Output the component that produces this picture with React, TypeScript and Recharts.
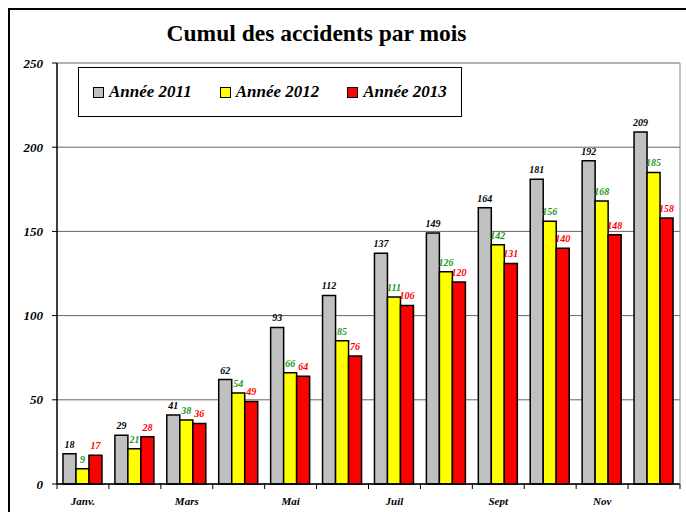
import { BarChart, Bar, XAxis, YAxis, CartesianGrid, LabelList } from 'recharts';

const months = ['Janv.', 'Févr.', 'Mars', 'Avr.', 'Mai', 'Juin', 'Juil', 'Août', 'Sept', 'Oct', 'Nov', 'Déc.'];
const y2011 = [18, 29, 41, 62, 93, 112, 137, 149, 164, 181, 192, 209];
const y2012 = [9, 21, 38, 54, 66, 85, 111, 126, 142, 156, 168, 185];
const y2013 = [17, 28, 36, 49, 64, 76, 106, 120, 131, 140, 148, 158];
const yTicks = [0, 50, 100, 150, 200, 250];

const series = [
  { key: 'a2011', name: 'Année 2011', fill: '#C0C0C0', labelColor: '#000000' },
  { key: 'a2012', name: 'Année 2012', fill: '#FFFF00', labelColor: '#229922' },
  { key: 'a2013', name: 'Année 2013', fill: '#FF0000', labelColor: '#FF0000' },
];

const data = months.map((month, i) => ({
  month,
  a2011: y2011[i],
  a2012: y2012[i],
  a2013: y2013[i],
}));

const FONT = "'Liberation Serif', 'Times New Roman', serif";
const W = 686;
const H = 512;
const margin = { top: 63, right: 5, left: 10, bottom: 4 };
const yAxisW = 47;
const plotW = W - margin.left - margin.right - yAxisW - 1;
const halfBand = plotW / months.length / 2;

const italicBold = { fontFamily: FONT, fontWeight: 'bold' as const, fontStyle: 'italic' as const };

function MonthTick(props: any) {
  const { x, y, index, payload } = props;
  const last = index === months.length - 1;
  return (
    <g>
      <line x1={x - halfBand} x2={x - halfBand} y1={y} y2={y + 5} stroke="#000" />
      {last && <line x1={x + halfBand} x2={x + halfBand} y1={y} y2={y + 5} stroke="#000" />}
      {index % 2 === 0 && (
        <text x={x} y={y + 21} textAnchor="middle" fontSize={11} fill="#000" style={italicBold}>
          {payload.value}
        </text>
      )}
    </g>
  );
}

export default function App() {
  return (
    <div
      style={{
        position: 'relative',
        width: W,
        height: H,
        overflow: 'hidden',
        background: '#fff',
        fontFamily: FONT,
      }}
    >
      <style>{'body{margin:0;overflow:hidden}'}</style>
      {/* outer frame, cut off at right and bottom */}
      <div
        style={{
          position: 'absolute',
          left: 8,
          top: 8,
          width: 720,
          height: 540,
          border: '2px solid #000',
        }}
      />
      <div
        style={{
          position: 'absolute',
          left: 0,
          width: 633,
          top: 20,
          textAlign: 'center',
          fontWeight: 'bold',
          fontSize: 23.5,
          color: '#000',
          whiteSpace: 'nowrap',
        }}
      >
        Cumul des accidents par mois
      </div>
      <div style={{ position: 'absolute', left: 0, top: 0 }}>
        <BarChart
          width={W}
          height={H}
          data={data}
          margin={margin}
          barCategoryGap="11.5%"
          barGap={0}
          style={{ fontFamily: FONT }}
        >
          <CartesianGrid vertical={false} stroke="#666" strokeWidth={1} />
          <XAxis
            dataKey="month"
            height={24}
            interval={0}
            tickSize={0}
            tickMargin={0}
            tickLine={false}
            axisLine={{ stroke: '#000', strokeWidth: 1.5 }}
            tick={<MonthTick />}
          />
          <YAxis
            width={yAxisW}
            domain={[0, 250]}
            ticks={yTicks}
            interval={0}
            tickSize={5}
            tickMargin={9}
            axisLine={{ stroke: '#000', strokeWidth: 1.5 }}
            tickLine={{ stroke: '#000' }}
            tick={{ fontSize: 13, fill: '#000', style: italicBold }}
          />
          <YAxis
            yAxisId="right"
            orientation="right"
            width={1}
            domain={[0, 250]}
            tick={false}
            tickLine={false}
            axisLine={{ stroke: '#888' }}
          />
          {series.map((s) => (
            <Bar
              key={s.key}
              dataKey={s.key}
              name={s.name}
              fill={s.fill}
              stroke="#000"
              strokeWidth={1.5}
              isAnimationActive={false}
            >
              <LabelList
                dataKey={s.key}
                position="top"
                offset={6}
                fill={s.labelColor}
                fontSize={10}
                style={italicBold}
              />
            </Bar>
          ))}
        </BarChart>
      </div>
      {/* legend box */}
      <div
        style={{
          position: 'absolute',
          left: 78,
          top: 67,
          width: 368,
          height: 48,
          border: '1px solid #000',
          background: '#fff',
          display: 'flex',
          alignItems: 'center',
          paddingLeft: 14,
          boxSizing: 'content-box',
          fontWeight: 'bold',
          fontStyle: 'italic',
          fontSize: 17,
          whiteSpace: 'nowrap',
        }}
      >
        {series.map((s) => (
          <div key={s.key} style={{ display: 'flex', alignItems: 'center', marginRight: 28 }}>
            <span
              style={{
                display: 'inline-block',
                width: 9,
                height: 9,
                background: s.fill,
                border: '1px solid #000',
                marginRight: 5,
              }}
            />
            <span>{s.name}</span>
          </div>
        ))}
      </div>
    </div>
  );
}
